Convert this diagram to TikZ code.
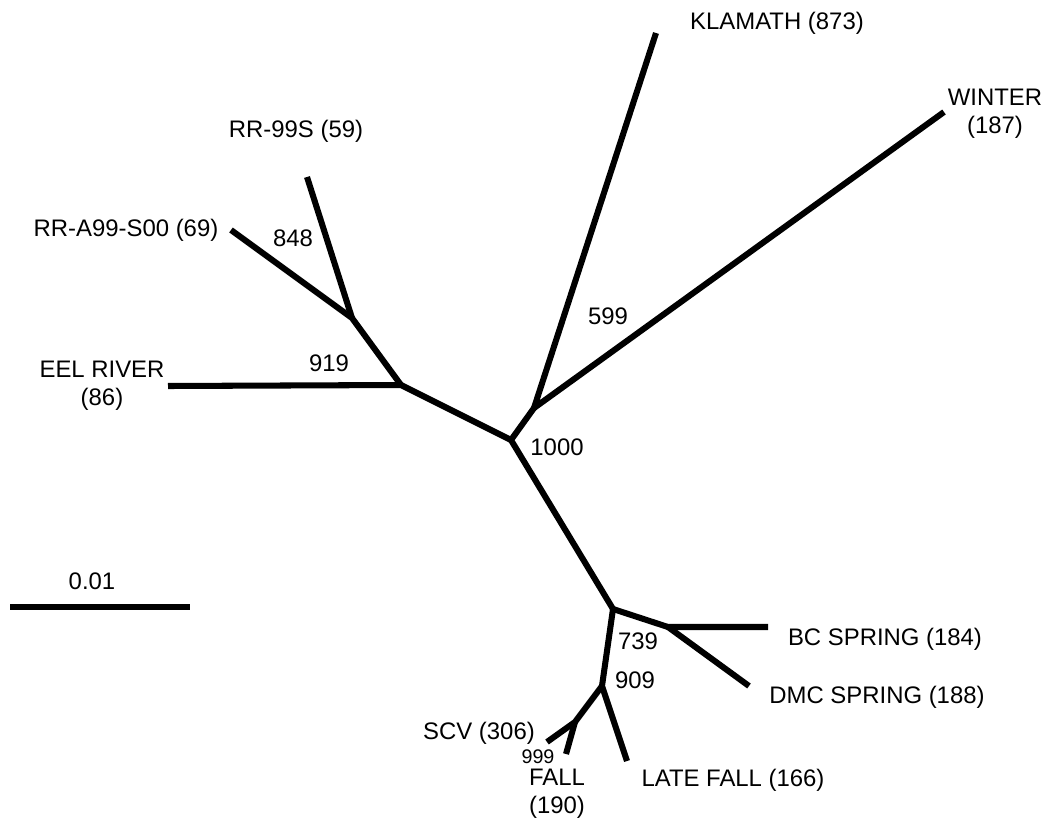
\documentclass[tikz,border=0pt]{standalone}
\usepackage{fontspec}
\setmainfont{Liberation Sans}
\usetikzlibrary{positioning}
\tikzset{
  branch/.style={line width=4.3pt, line join=round},
  taxon/.style={font=\fontsize{17}{20}\selectfont, inner sep=0pt, align=center},
  boot/.style={font=\fontsize{17}{20}\selectfont, inner sep=0pt},
  smallboot/.style={font=\fontsize{14}{16}\selectfont, inner sep=0pt}
}

\begin{document}
\begin{tikzpicture}[x=0.025cm, y=-0.025cm]
\useasboundingbox (0,0) rectangle (1051,821);
% internal nodes of the tree
\coordinate (root) at (511,440);
\coordinate (nkw) at (534,408);
\coordinate (neel) at (401,385);
\coordinate (nrr) at (352,318);
\coordinate (nlow) at (613,609);
\coordinate (nspr) at (668,627);
\coordinate (nfal) at (602,686);
\coordinate (nscv) at (575,722);
% tips
\coordinate (klamath) at (656,33);
\coordinate (winter) at (944,112);
\coordinate (eel) at (168,386);
\coordinate (rra) at (231,230);
\coordinate (rrs) at (307,177);
\coordinate (bcspr) at (768,627);
\coordinate (dmcspr) at (749,686);
\coordinate (scv) at (547,742);
\coordinate (fall) at (566,754);
\coordinate (latefall) at (627,761);

% branches
\draw[branch] (klamath) -- (nkw) -- (winter);
\draw[branch] (nkw) -- (root) -- (nlow);
\draw[branch] (root) -- (neel) -- (eel);
\draw[branch] (neel) -- (nrr) -- (rra);
\draw[branch] (nrr) -- (rrs);
\draw[branch] (nlow) -- (nspr) -- (bcspr);
\draw[branch] (nspr) -- (dmcspr);
\draw[branch] (nlow) -- (nfal) -- (latefall);
\draw[branch] (nfal) -- (nscv) -- (scv);
\draw[branch] (nscv) -- (fall);

% taxon labels
\node[taxon] (lklamath) at (777,23) {KLAMATH (873)};
\node[taxon] (lwinter) at (995,114) {WINTER\\(187)};
\node[taxon] (lrrs) at (296,131) {RR-99S (59)};
\node[taxon] (lrra) at (126,230) {RR-A99-S00 (69)};
\node[taxon] (leel) at (102,386) {EEL RIVER\\(86)};
\node[taxon] (lbcspr) at (885,639) {BC SPRING (184)};
\node[taxon] (ldmcspr) at (877,697) {DMC SPRING (188)};
\node[taxon] (lscv) at (479,733) {SCV (306)};
\node[taxon] (lfall) at (557,794) {FALL\\(190)};
\node[taxon] (llatefall) at (733,780) {LATE FALL (166)};

% bootstrap values
\node[boot] (b599) at (608,316) {599};
\node[boot] (b848) at (293,238) {848};
\node[boot] (b919) at (329,363) {919};
\node[boot] (b1000) at (557,447) {1000};
\node[boot] (b739) at (638,641) {739};
\node[boot] (b909) at (635,680) {909};
\node[smallboot] (b999) at (538,757) {999};

% scale bar
\coordinate (sbl) at (10,607);
\coordinate (sbr) at (190,607);
\draw[branch] (sbl) -- (sbr);
\node[boot] (lscale) at (92,581) {0.01};
\end{tikzpicture}
\end{document}
